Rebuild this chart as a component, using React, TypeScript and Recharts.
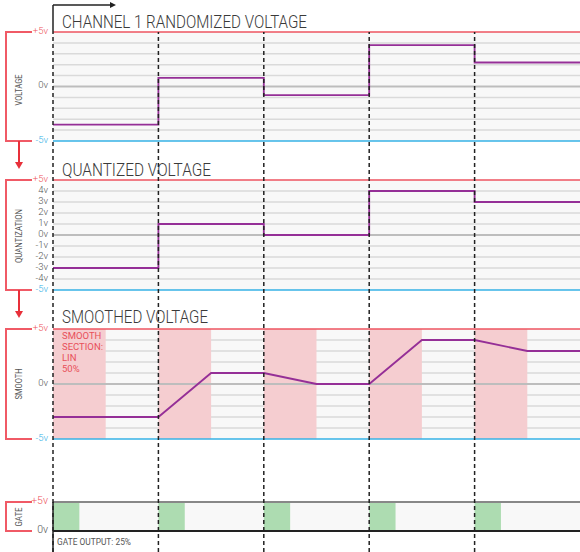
import React from 'react';
import {
  ComposedChart,
  Line,
  XAxis,
  YAxis,
  CartesianGrid,
  ReferenceLine,
  ReferenceArea,
} from 'recharts';

// segment index 0..5, one random value per clock segment
const SEGMENT_STARTS = [0, 1, 2, 3, 4];
const RANDOM_V = [-3.5, 0.8, -0.8, 3.8, 2.2];
const QUANT_V = [-3, 1, 0, 4, 3];
const SMOOTH_T = [0, 1, 1.5, 2, 2.5, 3, 3.5, 4, 4.5, 5];
const SMOOTH_V = [-3, -3, 1, 1, 0, 0, 4, 4, 3, 3];
const SMOOTH_SECTION = 0.5;
const GATE_LENGTH = 0.25;

const VOLT_TICKS = [5, 0, -5];
const QUANT_TICKS = [5, 4, 3, 2, 1, 0, -1, -2, -3, -4, -5];
const GRID_V = [4, 3, 2, 1, -1, -2, -3, -4];
const GATE_TICKS = [5, 0];

const TITLES = ['CHANNEL 1 RANDOMIZED VOLTAGE', 'QUANTIZED VOLTAGE', 'SMOOTHED VOLTAGE'];
const SIDE_LABELS = ['VOLTAGE', 'QUANTIZATION', 'SMOOTH', 'GATE'];
const SMOOTH_NOTE = ['SMOOTH', 'SECTION:', 'LIN', '50%'];

const FONT = 'Roboto, sans-serif';
const PURPLE = '#952f97';
const RED = '#ee5560';
const BLUE = '#36b2e6';
const GRID = '#dadada';
const BG = '#f8f8f8';

const W = 580;

const stepData = (vals: number[]) =>
  [...vals, vals[vals.length - 1]].map((v, i) => ({ t: i, v }));

const smoothData = SMOOTH_T.map((t, i) => ({ t, v: SMOOTH_V[i] }));

// eslint-disable-next-line @typescript-eslint/no-explicit-any
const VoltTick = (props: any) => {
  const { x, y, payload } = props;
  const v = payload.value;
  const color = v === 5 ? RED : v === -5 ? BLUE : '#555';
  const label = v === 5 ? '+5v' : `${v}v`;
  return (
    <text x={x} y={y} dy={1.5} textAnchor="end" fontSize={9.5} fontWeight={300} fontFamily={FONT} fill={color}>
      {label}
    </text>
  );
};

// eslint-disable-next-line @typescript-eslint/no-explicit-any
const GateTick = (props: any) => {
  const { x, y, payload } = props;
  const v = payload.value;
  return (
    <text x={x} y={y} dy={2} textAnchor="end" fontSize={10.5} fontWeight={300} fontFamily={FONT} fill={v === 5 ? RED : '#555'}>
      {v === 5 ? '+5v' : `${v}v`}
    </text>
  );
};

interface PanelProps {
  top: number;
  height: number;
  margin: { top: number; bottom: number };
  data: { t: number; v: number }[];
  ticks: number[];
  lineType: 'stepAfter' | 'linear';
  bands?: boolean;
}

function Panel({ top, height, margin, data, ticks, lineType, bands }: PanelProps) {
  return (
    <div style={{ position: 'absolute', left: 0, top, width: W, height }}>
      <ComposedChart width={W} height={height} data={data} margin={{ top: margin.top, bottom: margin.bottom, left: 0, right: 0 }}>
        <CartesianGrid
          vertical={false}
          fill={BG}
          stroke={GRID}
          strokeWidth={1.5}
          horizontalValues={GRID_V}
        />
        <XAxis dataKey="t" type="number" domain={[0, 5]} hide />
        <YAxis
          type="number"
          domain={[-5, 5]}
          ticks={ticks}
          interval={0}
          width={53}
          tickSize={0}
          tickMargin={5}
          axisLine={false}
          tickLine={false}
          tick={<VoltTick />}
        />
        {bands &&
          SEGMENT_STARTS.map((s) => (
            <ReferenceArea key={s} x1={s} x2={s + SMOOTH_SECTION} y1={-5} y2={5} fill="#f5cdd0" fillOpacity={1} stroke="none" />
          ))}
        <ReferenceLine y={0} stroke="#bdbdbd" strokeWidth={2} />
        <ReferenceLine y={5} stroke={RED} strokeWidth={1.5} />
        <ReferenceLine y={-5} stroke={BLUE} strokeWidth={1.5} />
        <Line
          type={lineType}
          dataKey="v"
          stroke={PURPLE}
          strokeWidth={1.8}
          dot={false}
          isAnimationActive={false}
        />
      </ComposedChart>
    </div>
  );
}

const clockData = SEGMENT_STARTS.map((t) => ({ t, v: 0 }));

function GatePanel() {
  return (
    <div style={{ position: 'absolute', left: 0, top: 450, width: W, height: 102 }}>
      <ComposedChart width={W} height={102} data={clockData} margin={{ top: 52, bottom: 21, left: 0, right: 0 }}>
        <CartesianGrid vertical={false} horizontal={false} fill={BG} />
        <XAxis dataKey="t" type="number" domain={[0, 5]} hide />
        <YAxis
          type="number"
          domain={[0, 5]}
          ticks={GATE_TICKS}
          interval={0}
          width={53}
          tickSize={0}
          tickMargin={5}
          axisLine={false}
          tickLine={false}
          tick={<GateTick />}
        />
        {SEGMENT_STARTS.map((s) => (
          <ReferenceArea key={s} x1={s} x2={s + GATE_LENGTH} y1={0} y2={5} fill="#addcb1" fillOpacity={1} stroke="none" />
        ))}
        <ReferenceLine y={5} stroke="#888" strokeWidth={2} />
        <ReferenceLine y={0} stroke="#222" strokeWidth={2} />
        <Line dataKey="v" stroke="none" dot={false} isAnimationActive={false} />
      </ComposedChart>
    </div>
  );
}

function ClockLines() {
  return (
    <div style={{ position: 'absolute', left: 0, top: 0, width: W, height: 552, pointerEvents: 'none' }}>
      <ComposedChart width={W} height={552} data={clockData} margin={{ top: 32, bottom: 0, left: 53, right: 0 }}>
        <XAxis dataKey="t" type="number" domain={[0, 5]} hide />
        <YAxis type="number" domain={[0, 1]} hide />
        {SEGMENT_STARTS.map((s) => (
          <ReferenceLine key={s} x={s} stroke="#222" strokeWidth={1.5} strokeDasharray="4 3" />
        ))}
        <Line dataKey="v" stroke="none" dot={false} isAnimationActive={false} />
      </ComposedChart>
    </div>
  );
}

const Bracket = ({ y1, y2, arrowTo }: { y1: number; y2: number; arrowTo?: number }) => (
  <g>
    <polyline points={`32,${y1} 6,${y1} 6,${y2} 32,${y2}`} fill="none" stroke="#f05a66" strokeWidth={2} />
    {arrowTo && (
      <g>
        <line x1={19} y1={y2} x2={19} y2={arrowTo - 6} stroke="#e8303a" strokeWidth={2} />
        <polygon points={`15,${arrowTo - 7} 23,${arrowTo - 7} 19,${arrowTo}`} fill="#e8303a" />
      </g>
    )}
  </g>
);

function Annotations() {
  const sideY = [90, 236, 384, 517];
  const sideLen = [31, 54, 31, 19];
  const titleY = [28, 176, 323];
  const titleLen = [245, 149, 146];
  return (
    <svg width={W} height={552} style={{ position: 'absolute', left: 0, top: 0, pointerEvents: 'none' }}>
      {/* time axis */}
      <line x1={53} y1={5} x2={53} y2={32} stroke="#222" strokeWidth={1.5} />
      <line x1={53} y1={5} x2={112} y2={5} stroke="#222" strokeWidth={1.5} />
      <polygon points="110,2 116,5 110,8" fill="#222" />
      <line x1={53} y1={502} x2={53} y2={552} stroke="#222" strokeWidth={1.5} />

      {TITLES.map((t, i) => (
        <text
          key={t}
          x={62}
          y={titleY[i]}
          fontSize={19}
          fontWeight={300}
          fontFamily={FONT}
          fill="#3a3a3a"
          textLength={titleLen[i]}
          lengthAdjust="spacingAndGlyphs"
        >
          {t}
        </text>
      ))}

      <Bracket y1={32} y2={141} arrowTo={169} />
      <Bracket y1={180} y2={290} arrowTo={318} />
      <Bracket y1={329} y2={439} />
      <Bracket y1={502} y2={531} />

      {SIDE_LABELS.map((t, i) => (
        <text
          key={t}
          x={19 - sideLen[i] / 2}
          y={sideY[i]}
          transform={`rotate(-90 19 ${sideY[i]})`}
          dominantBaseline="central"
          fontSize={8.5}
          fontFamily={FONT}
          fill="#555"
          textLength={sideLen[i]}
          lengthAdjust="spacingAndGlyphs"
        >
          {t}
        </text>
      ))}

      {SMOOTH_NOTE.map((t, i) => (
        <text key={t} x={62} y={339 + i * 11} fontSize={9.5} fontFamily={FONT} fill="#e8505a">
          {t}
        </text>
      ))}

      <text x={57} y={545} fontSize={9} fontFamily={FONT} fill="#555" textLength={74} lengthAdjust="spacingAndGlyphs">
        GATE OUTPUT: 25%
      </text>
    </svg>
  );
}

export default function App() {
  return (
    <div style={{ position: 'absolute', left: 0, top: 0, width: W, height: 552, background: '#fff' }}>
      <Panel top={0} height={150} margin={{ top: 32, bottom: 9 }} data={stepData(RANDOM_V)} ticks={VOLT_TICKS} lineType="stepAfter" />
      <Panel top={150} height={150} margin={{ top: 30, bottom: 10 }} data={stepData(QUANT_V)} ticks={QUANT_TICKS} lineType="stepAfter" />
      <Panel top={300} height={150} margin={{ top: 29, bottom: 11 }} data={smoothData} ticks={VOLT_TICKS} lineType="linear" bands />
      <GatePanel />
      <ClockLines />
      <Annotations />
    </div>
  );
}
